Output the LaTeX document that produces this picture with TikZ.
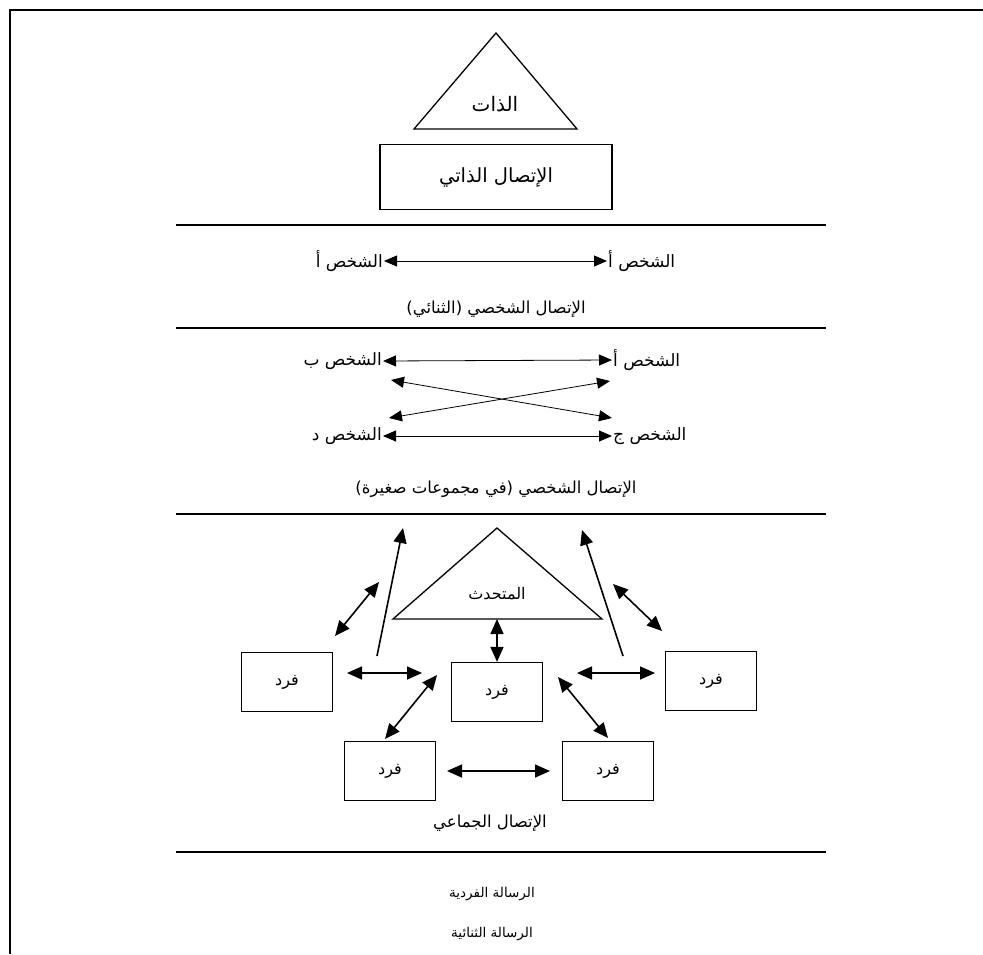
\documentclass[tikz,border=0pt]{standalone}
\usepackage{fontspec}
\usetikzlibrary{arrows.meta}
\TeXXeTstate=1
\newfontfamily\arabicfont[Script=Arabic]{DejaVu Sans}

\tikzset{
  rule/.style={line width=1.6pt},
  shapeline/.style={line width=1.3pt, line join=miter},
  lbl/.style={inner sep=1pt, font={\arabicfont\fontsize{17}{20}\selectfont}},
  captiontext/.style={inner sep=1pt, font={\arabicfont\fontsize{16.5}{20}\selectfont}},
  small/.style={inner sep=1pt, font={\arabicfont\fontsize{13.5}{16}\selectfont}},
  person/.style={draw, line width=1.3pt, minimum width=91pt, minimum height=59pt, inner sep=0pt,
                 font={\arabicfont\fontsize{16}{19}\selectfont}},
  twoway/.style={line width=0.8pt, {Triangle[length=13pt,width=11pt]}-{Triangle[length=13pt,width=11pt]}},
  twowaybold/.style={line width=1.6pt, {Triangle[length=15pt,width=13pt]}-{Triangle[length=15pt,width=13pt]}},
  oneway/.style={line width=1.6pt, -{Triangle[length=15pt,width=13pt]}}
}

\begin{document}
\begin{tikzpicture}[x=1pt,y=-1pt]
\useasboundingbox (0,0) rectangle (983,954);

% page frame, open on the right and at the bottom
\draw[rule] (10,954) -- (10,10) -- (990,10);

% ---------- intrapersonal ----------
\coordinate (selfTop) at (496,33);
\coordinate (selfR) at (577,129);
\coordinate (selfL) at (414,129);
\draw[shapeline] (selfTop) -- (selfR) -- (selfL) -- cycle;
\node[lbl, font={\arabicfont\fontsize{20}{23}\selectfont}] (self) at (495,104) {\beginR الذات\endR};
\node[draw, line width=1.3pt, minimum width=232pt, minimum height=65pt, inner sep=0pt,
      font={\arabicfont\fontsize{19.5}{23}\selectfont}] (intra) at (496,177) {\beginR الإتصال الذاتي\endR};

\draw[rule] (176,225) -- (826,225);

% ---------- dyadic ----------
\node[lbl, anchor=east] (dyL) at (384,261) {\beginR الشخص أ\endR};
\node[lbl, anchor=west] (dyR) at (607,261) {\beginR الشخص أ\endR};
\draw[twoway] (dyL.east) -- (dyR.west);
\node[captiontext] (dyCap) at (496,309) {\beginR الإتصال الشخصي (الثنائي)\endR};

\draw[rule] (176,328) -- (826,328);

% ---------- small group ----------
\node[lbl, anchor=east] (pB) at (383,361) {\beginR الشخص ب\endR};
\node[lbl, anchor=west] (pA) at (612,360) {\beginR الشخص أ\endR};
\node[lbl, anchor=east] (pD) at (383,436) {\beginR الشخص د\endR};
\node[lbl, anchor=west] (pJ) at (612,436) {\beginR الشخص ج\endR};
\draw[twoway] (pB.east) -- (pA.west);
\draw[twoway] (pD.east) -- (pJ.west);
\coordinate (xBl) at (391,380);
\coordinate (xJr) at (612,418);
\coordinate (xDl) at (389,418);
\coordinate (xAr) at (610,381);
\draw[twoway] (xBl) -- (xJr);
\draw[twoway] (xDl) -- (xAr);
\node[captiontext] (sgCap) at (496,489) {\beginR الإتصال الشخصي (في مجموعات صغيرة)\endR};

\draw[rule] (176,514) -- (826,514);

% ---------- public / group ----------
\coordinate (spTop) at (497,528);
\coordinate (spR) at (602,619);
\coordinate (spL) at (393,619);
\draw[shapeline] (spTop) -- (spR) -- (spL) -- cycle;
\node[lbl, font={\arabicfont\fontsize{16}{19}\selectfont}] (speaker) at (497,594) {\beginR المتحدث\endR};

\node[person] (fL)  at (287,682) {\beginR فرد\endR};
\node[person] (fC)  at (497,692) {\beginR فرد\endR};
\node[person] (fR)  at (711,681) {\beginR فرد\endR};
\node[person] (fBL) at (390,771) {\beginR فرد\endR};
\node[person] (fBR) at (608,771) {\beginR فرد\endR};

% feedback rising past the speaker
\coordinate (upLs) at (377,656);
\coordinate (upLe) at (403,528);
\coordinate (upRs) at (623,656);
\coordinate (upRe) at (582,530);
\draw[oneway] (upLs) -- (upLe);
\draw[oneway] (upRs) -- (upRe);

% exchanges around the speaker
\coordinate (tlA) at (335,636);
\coordinate (tlB) at (379,582);
\coordinate (trA) at (613,584);
\coordinate (trB) at (662,631);
\draw[twowaybold] (tlA) -- (tlB);
\draw[twowaybold] (trA) -- (trB);
\draw[twowaybold] (spTop |- spL) -- (fC.north);

% exchanges between individuals
\coordinate (hlA) at (347,673);
\coordinate (hlB) at (422,673);
\coordinate (hrA) at (577,673);
\coordinate (hrB) at (655,673);
\draw[twowaybold] (hlA) -- (hlB);
\draw[twowaybold] (hrA) -- (hrB);
\coordinate (dlA) at (437,675);
\coordinate (dlB) at (385,739);
\coordinate (drA) at (558,677);
\coordinate (drB) at (608,738);
\draw[twowaybold] (dlA) -- (dlB);
\draw[twowaybold] (drA) -- (drB);
\coordinate (bA) at (447,771);
\coordinate (bB) at (550,771);
\draw[twowaybold] (bA) -- (bB);

\node[captiontext] (grCap) at (490,823) {\beginR الإتصال الجماعي\endR};

\draw[rule] (176,852) -- (826,852);

% ---------- messages ----------
\node[small] (msg1) at (492,894) {\beginR الرسالة الفردية\endR};
\node[small] (msg2) at (492,934) {\beginR الرسالة الثنائية\endR};
\end{tikzpicture}
\end{document}
